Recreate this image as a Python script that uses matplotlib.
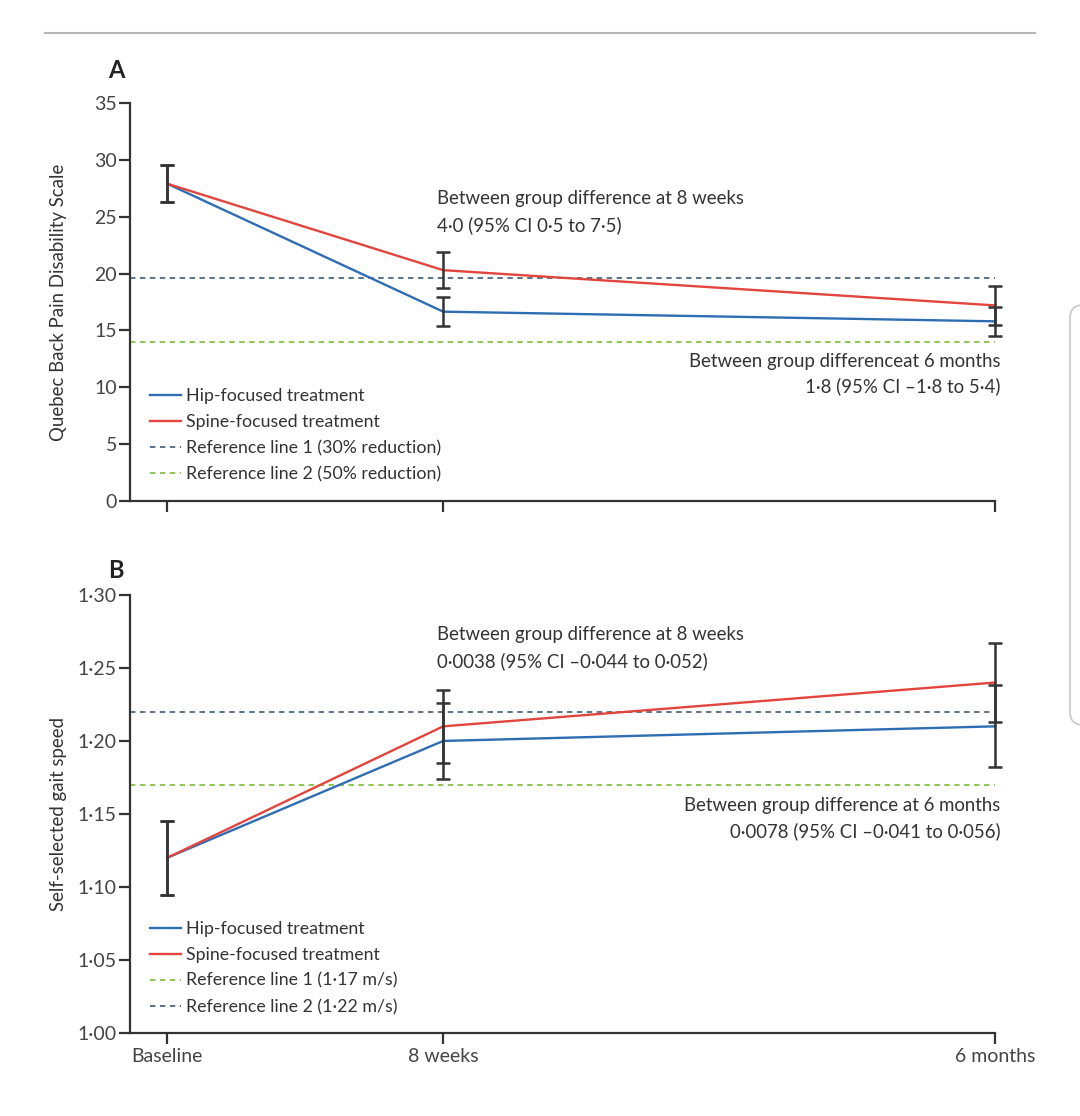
import matplotlib
matplotlib.use('Agg')
import matplotlib.pyplot as plt
from matplotlib.patches import FancyBboxPatch
from matplotlib.lines import Line2D

plt.rcParams['font.family'] = ['Lato', 'DejaVu Sans']

# time points (months) and labels
times = [0, 2, 6]
time_labels = ['Baseline', '8 weeks', '6 months']

# A - Quebec Back Pain Disability Scale
hip_a = [27.9, 16.65, 15.8]
hip_a_err = [1.65, 1.3, 1.3]
spine_a = [27.9, 20.3, 17.2]
spine_a_err = [1.65, 1.6, 1.7]
ref_a = [19.6, 14.0]
ref_a_labels = ['Reference line 1 (30% reduction)', 'Reference line 2 (50% reduction)']

# B - self-selected gait speed
hip_b = [1.12, 1.20, 1.21]
hip_b_err = [0.0255, 0.026, 0.028]
spine_b = [1.12, 1.21, 1.24]
spine_b_err = [0.0255, 0.025, 0.027]
ref_b = [1.17, 1.22]
ref_b_labels = ['Reference line 1 (1·17 m/s)', 'Reference line 2 (1·22 m/s)']

note_a = ['Between group difference at 8 weeks\n4·0 (95% CI 0·5 to 7·5)',
          'Between group differenceat 6 months\n1·8 (95% CI –1·8 to 5·4)']
note_b = ['Between group difference at 8 weeks\n0·0038 (95% CI –0·044 to 0·052)',
          'Between group difference at 6 months\n0·0078 (95% CI –0·041 to 0·056)']

BLUE = '#2f6db3'
RED = '#e2453d'
SLATE = '#4c6883'
GREEN = '#86c144'
DARK = '#333333'
FS_NOTE = 13.4
FS_LEG = 12.8
FS_TICK = 14

fig = plt.figure(figsize=(10.8, 11.16), dpi=100)
ax_a = fig.add_axes([0.1204, 0.5511, 0.8009, 0.3566])
ax_b = fig.add_axes([0.1204, 0.0744, 0.8009, 0.3925])


def draw_panel(ax, hip, hip_err, spine, spine_err, refs, ref_colors, ref_labels, leg_top):
    h1, = ax.plot(times, hip, color=BLUE, lw=1.7, zorder=3, clip_on=False)
    h2, = ax.plot(times, spine, color=RED, lw=1.7, zorder=3, clip_on=False)
    ref_handles = []
    for val, col in zip(refs, ref_colors):
        ax.axhline(val, color=col, lw=1.3, ls=(0, (3, 2.5)), zorder=2)
        ref_handles.append(Line2D([], [], color=col, lw=1.3, ls=(0, (3, 2.5))))
    for y, e in ((hip, hip_err), (spine, spine_err)):
        ax.errorbar(times, y, yerr=e, fmt='none', ecolor=DARK, elinewidth=1.8,
                    capsize=5, capthick=1.8, zorder=4, clip_on=False)
    ax.set_xlim(-0.27, 6)
    ax.set_xticks(times)
    for side in ('top', 'right'):
        ax.spines[side].set_visible(False)
    for side in ('left', 'bottom'):
        ax.spines[side].set_color(DARK)
        ax.spines[side].set_linewidth(1.6)
    ax.tick_params(length=8, width=1.6, color=DARK, labelsize=FS_TICK,
                   labelcolor='#444444', pad=1.5)
    ax.tick_params(axis='x', pad=3)
    handles = [h1, h2] + ref_handles
    labels = ['Hip-focused treatment', 'Spine-focused treatment'] + ref_labels
    leg = ax.legend(handles, labels, loc='upper left', bbox_to_anchor=(0.023, leg_top),
                    frameon=False, fontsize=FS_LEG, handlelength=1.75, handletextpad=0.3,
                    labelspacing=0.56, borderpad=0, borderaxespad=0)
    for t in leg.get_texts():
        t.set_color(DARK)


draw_panel(ax_a, hip_a, hip_a_err, spine_a, spine_a_err, ref_a, [SLATE, GREEN], ref_a_labels, 0.284)
ax_a.set_ylim(0, 35)
ax_a.set_yticks(range(0, 36, 5))
ax_a.set_xticklabels([])
ax_a.set_ylabel('Quebec Back Pain Disability Scale', fontsize=FS_NOTE, color=DARK)
ax_a.yaxis.set_label_coords(-0.073, 0.5)
ax_a.text(1.957, 25.4, note_a[0], fontsize=FS_NOTE, color=DARK, ha='left', va='center',
          linespacing=1.6)
ax_a.text(6.04, 11.17, note_a[1], fontsize=FS_NOTE, color=DARK, ha='right', va='center',
          linespacing=1.5, multialignment='right')

draw_panel(ax_b, hip_b, hip_b_err, spine_b, spine_b_err, ref_b, [GREEN, SLATE], ref_b_labels, 0.256)
ax_b.set_ylim(1.0, 1.3)
ax_b.set_yticks([1.0, 1.05, 1.1, 1.15, 1.2, 1.25, 1.3])
ax_b.set_yticklabels([f'{v:.2f}'.replace('.', '·') for v in ax_b.get_yticks()])
ax_b.set_xticklabels(time_labels)
ax_b.set_ylabel('Self-selected gait speed', fontsize=FS_NOTE, color=DARK)
ax_b.yaxis.set_label_coords(-0.073, 0.5)
ax_b.text(1.957, 1.2637, note_b[0], fontsize=FS_NOTE, color=DARK, ha='left', va='center',
          linespacing=1.6)
ax_b.text(6.04, 1.1469, note_b[1], fontsize=FS_NOTE, color=DARK, ha='right', va='center',
          linespacing=1.5, multialignment='right')

# panel letters, top rule, and the side card edge
fig.text(0.1, 0.937, 'A', fontsize=17, fontweight='bold', color='#222222', ha='left', va='center')
fig.text(0.1, 0.4884, 'B', fontsize=17, fontweight='bold', color='#222222', ha='left', va='center')
fig.add_artist(Line2D([45 / 1080, 1035 / 1080], [1 - 33 / 1116] * 2, color='#b5b5b5', lw=1.5))
fig.add_artist(FancyBboxPatch((1070 / 1080, 0.3504), 0.05, 0.3763,
                              boxstyle='round,pad=0,rounding_size=0.012',
                              transform=fig.transFigure, fc='white', ec='#c8c8c8', lw=1.2))

fig.savefig('out.png', dpi=100)
